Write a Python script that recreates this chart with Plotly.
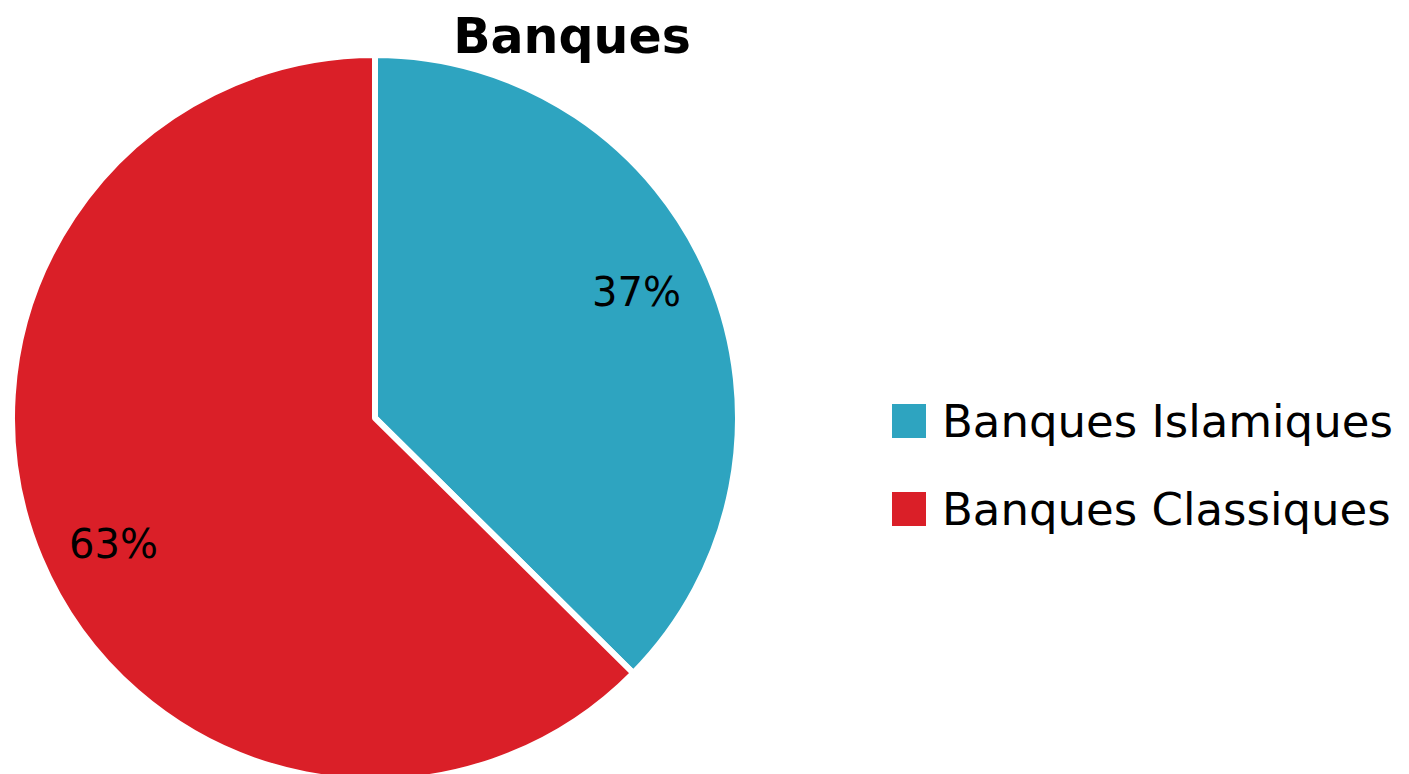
import math
import plotly.graph_objects as go

labels = ["Banques Islamiques", "Banques Classiques"]
values = [37.4, 62.6]
colors = ["#2EA4C0", "#DA1F28"]
title = "Banques"

W, H = 1409, 774
FONT = "DejaVu Sans"
OFF = 8  # page body margin offset

CX, CY, R = 375 - OFF, 418 - OFF, 363  # pixel geometry of pie domain
LABEL_R = 290          # label distance from centre (px)
LABEL_ROT = -3.0       # label angular offset (deg)

fig = go.Figure()
fig.add_trace(go.Pie(
    labels=labels, values=values, sort=False, direction="clockwise", rotation=0,
    marker=dict(colors=colors, line=dict(color="white", width=6)),
    textinfo="none", textposition="none",
    domain=dict(x=[(CX - R) / W, (CX + R) / W], y=[max(0, 1 - (CY + R) / H), 1 - (CY - R) / H]),
    showlegend=False, hoverinfo="label+percent",
))

# percentage labels near slice mid-angles
total = sum(values)
cum = 0
for v in values:
    mid = (cum + v / 2) / total * 2 * math.pi + math.radians(LABEL_ROT)
    cum += v
    px = CX + LABEL_R * math.sin(mid)
    py = CY - LABEL_R * math.cos(mid)
    fig.add_annotation(x=px / W, y=1 - py / H, xref="paper", yref="paper",
                       text=f"{round(v / total * 100)}%", showarrow=False,
                       xanchor="center", yanchor="middle",
                       font=dict(family=FONT, size=40, color="black"))

# legend drawn as squares + text
y0 = 421 - OFF
dy = 88
for i, (lab, col) in enumerate(zip(labels, colors)):
    yc = y0 + i * dy
    fig.add_shape(type="rect", xref="paper", yref="paper",
                  x0=(892 - OFF) / W, x1=(926 - OFF) / W,
                  y0=1 - (yc - 17) / H, y1=1 - (yc + 17) / H,
                  fillcolor=col, line=dict(width=0))
    fig.add_annotation(x=(940 - OFF) / W, y=1 - yc / H, xref="paper", yref="paper",
                       text=lab, showarrow=False, xanchor="left", yanchor="middle",
                       font=dict(family=FONT, size=45, color="black"))

fig.update_layout(
    width=W, height=H,
    margin=dict(l=0, r=0, t=0, b=0),
    paper_bgcolor="white", plot_bgcolor="white",
    title=dict(text="<b>" + title + "</b>", x=(572 - OFF) / W, xanchor="center",
               y=1 - 28 / H, yanchor="middle",
               font=dict(family=FONT, size=49, color="black")),
)

fig.write_html("out.html")
